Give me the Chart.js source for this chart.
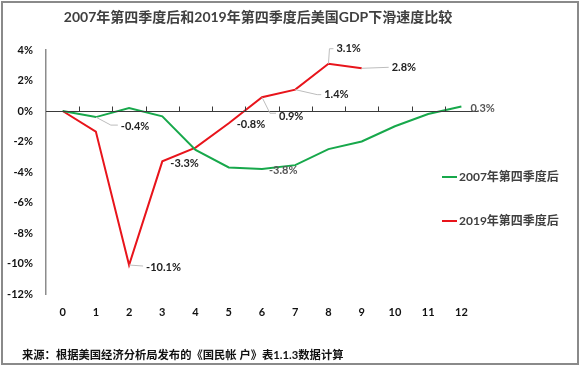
<!DOCTYPE html>
<html>
<head>
<meta charset="utf-8">
<script src="https://cdn.jsdelivr.net/npm/chart.js@4.4.1/dist/chart.umd.min.js"></script>
<style>
  html, body { margin: 0; padding: 0; background: #fff; }
  canvas { display: block; }
</style>
</head>
<body>
<canvas id="myChart" width="581" height="366"></canvas>
<script>
// quarters after the peak
const quarters = ["0", "1", "2", "3", "4", "5", "6", "7", "8", "9", "10", "11", "12"];
// GDP change vs. peak quarter, %
const after2007 = [0, -0.4, 0.2, -0.35, -2.55, -3.7, -3.8, -3.55, -2.5, -2.0, -1.0, -0.2, 0.3];
const after2019 = [0, -1.35, -10.1, -3.3, -2.4, -0.8, 0.9, 1.4, 3.1, 2.8];
const seriesNames = ["2007年第四季度后", "2019年第四季度后"];
const yTicks = [-12, -10, -8, -6, -4, -2, 0, 2, 4];

const titleText = "2007年第四季度后和2019年第四季度后美国GDP下滑速度比较";
const sourceText = "来源：根据美国经济分析局发布的《国民帐 户》表1.1.3数据计算";

const FONT = 'Lato, "Noto Sans CJK SC", sans-serif';
Chart.defaults.font.family = FONT;

// data labels: [dataset, index, text dx, text dy, leader path offsets, colour]
const labelSpots = [
  [0, 1, 25, 9, [[15, 8], [22, 8]], "#222"],
  [1, 2, 17, 2, [[14, 1]], "#222"],
  [1, 3, 8, 2, null, "#222"],
  [1, 5, 8, 1, null, "#222"],
  [1, 6, 17, 19, [[8, 16], [14, 16]], "#222"],
  [1, 7, 29, 5, [[22, 5], [26, 5]], "#222"],
  [1, 8, 8, -15, [[1, -15], [5, -15]], "#222"],
  [1, 9, 30, -1, [[27, -1]], "#222"],
  [0, 6, 7, 2, null, "#555"],
  [0, 12, 9, 2, null, "#555"]
];

const fmt = (v) => (Math.round(v * 10) / 10).toFixed(1) + "%";

const extras = {
  id: "extras",
  afterDatasetsDraw(chart) {
    const ctx = chart.ctx;
    const x = chart.scales.x, y = chart.scales.y;
    const area = chart.chartArea;
    const y0 = Math.round(y.getPixelForValue(0)) + 0.5;

    ctx.save();
    // zero line with small ticks between categories
    ctx.strokeStyle = "#3a3a3a";
    ctx.lineWidth = 1;
    ctx.beginPath();
    ctx.moveTo(area.left, y0);
    ctx.lineTo(area.right, y0);
    for (let i = 0; i < quarters.length - 1; i++) {
      const tx = Math.round((x.getPixelForValue(i) + x.getPixelForValue(i + 1)) / 2) + 0.5;
      ctx.moveTo(tx, y0);
      ctx.lineTo(tx, y0 - 5);
    }
    ctx.stroke();

    // labels
    ctx.font = "bold 11px " + FONT;
    ctx.textBaseline = "middle";
    ctx.textAlign = "left";
    labelSpots.forEach(([d, i, dx, dy, path, col]) => {
      const v = chart.data.datasets[d].data[i];
      const px = x.getPixelForValue(i), py = y.getPixelForValue(v);
      if (path) {
        ctx.strokeStyle = "#bdbdbd";
        ctx.beginPath();
        ctx.moveTo(px, py);
        path.forEach(([ox, oy]) => ctx.lineTo(px + ox, py + oy));
        ctx.stroke();
      }
      ctx.fillStyle = col;
      ctx.fillText(fmt(v), px + dx, py + dy);
    });

    // title
    ctx.fillStyle = "#404040";
    ctx.textAlign = "center";
    ctx.font = "bold 14px " + FONT;
    ctx.fillText(titleText, 258, 17);

    // legend
    ctx.textAlign = "left";
    ctx.font = "bold 12px " + FONT;
    chart.data.datasets.forEach((ds, k) => {
      const ly = 177 + k * 44;
      ctx.strokeStyle = ds.borderColor;
      ctx.lineWidth = 2;
      ctx.beginPath();
      ctx.moveTo(442, ly);
      ctx.lineTo(457, ly);
      ctx.stroke();
      ctx.fillStyle = "#404040";
      ctx.fillText(ds.label, 459, ly);
    });

    // source note
    ctx.fillStyle = "#111";
    ctx.font = "bold 11.3px " + FONT;
    ctx.fillText(sourceText, 22, 355);

    // frame
    ctx.strokeStyle = "#8a8a8a";
    ctx.lineWidth = 2;
    ctx.strokeRect(2, 2, 576, 362);
    ctx.restore();
  }
};

new Chart(document.getElementById("myChart").getContext("2d"), {
  type: "line",
  data: {
    labels: quarters,
    datasets: [
      {
        label: seriesNames[0],
        data: after2007,
        borderColor: "#17a84b",
        borderWidth: 2,
        pointRadius: 0,
        tension: 0,
        fill: false
      },
      {
        label: seriesNames[1],
        data: after2019,
        borderColor: "#e8141b",
        borderWidth: 2,
        pointRadius: 0,
        tension: 0,
        fill: false
      }
    ]
  },
  options: {
    responsive: false,
    animation: false,
    layout: { padding: { top: 50, right: 103, left: 0, bottom: 0 } },
    plugins: {
      legend: { display: false },
      title: { display: false },
      tooltip: { enabled: false }
    },
    scales: {
      x: {
        type: "category",
        offset: true,
        grid: { display: false, drawTicks: false },
        border: { display: false },
        ticks: { color: "#111", font: { weight: "bold", size: 11 }, padding: 12, maxRotation: 0 },
        afterFit: (s) => { s.height = 72; }
      },
      y: {
        min: -12,
        max: 4,
        afterBuildTicks: (s) => { s.ticks = yTicks.map((v) => ({ value: v })); },
        grid: { display: false, drawTicks: false },
        border: { display: true, color: "#8c8c8c", width: 1.5 },
        ticks: { color: "#111", font: { weight: "bold", size: 11 }, padding: 13, callback: (v) => v + "%" },
        afterFit: (s) => { s.width = 46; }
      }
    }
  },
  plugins: [extras]
});
</script>
</body>
</html>
